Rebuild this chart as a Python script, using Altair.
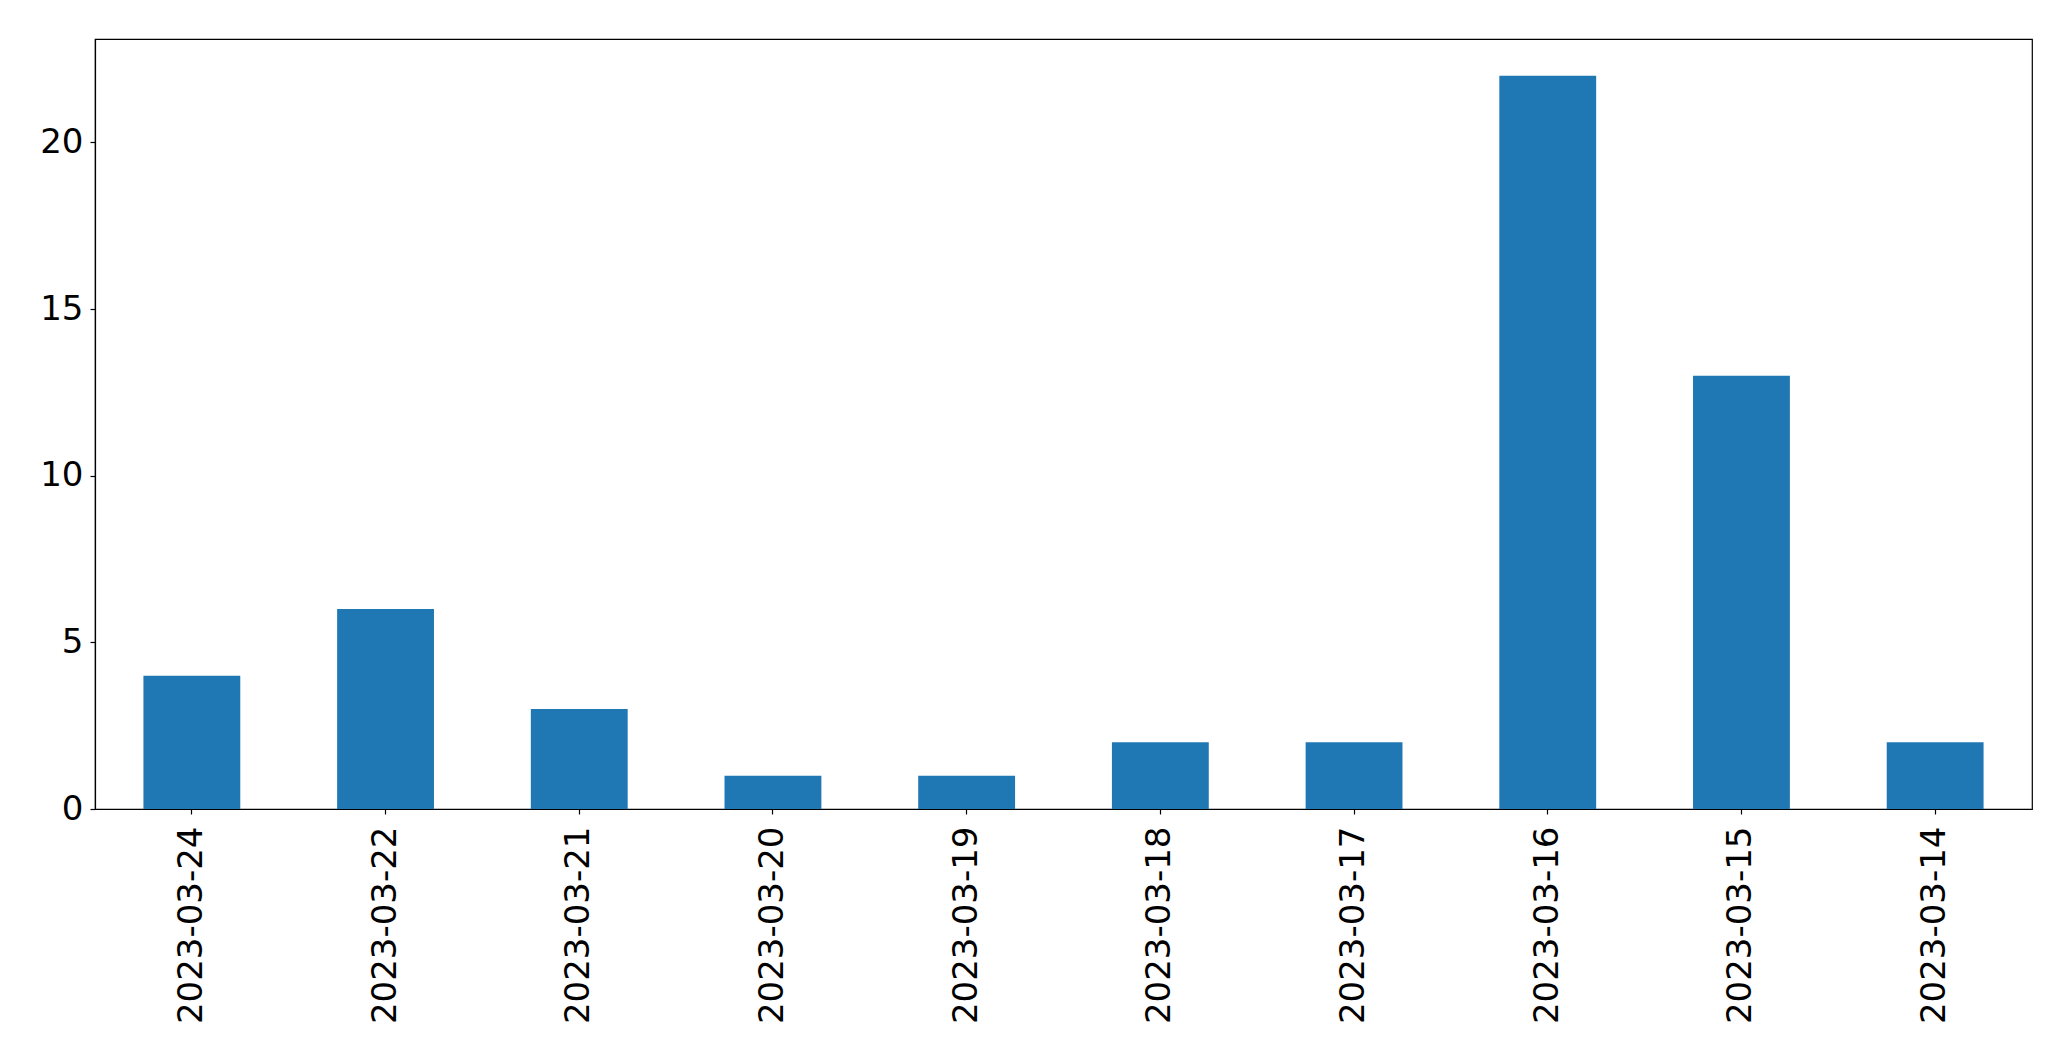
import altair as alt
import pandas as pd

dates = ["2023-03-24", "2023-03-22", "2023-03-21", "2023-03-20", "2023-03-19",
         "2023-03-18", "2023-03-17", "2023-03-16", "2023-03-15", "2023-03-14"]
counts = [4, 6, 3, 1, 1, 2, 2, 22, 13, 2]

df = pd.DataFrame({"date": dates, "count": counts})

chart = alt.Chart(df).mark_bar(color="#1f77b4").encode(
    x=alt.X("date:N", sort=None, title=None,
            scale=alt.Scale(paddingInner=0.5, paddingOuter=0.25),
            axis=alt.Axis(labelAngle=270, labelFontSize=34, labelFont="DejaVu Sans",
                          labelColor="black", tickColor="black", domainColor="black",
                          tickSize=5, labelPadding=12, tickWidth=1.2, domainWidth=1.2,
                          labelLimit=0)),
    y=alt.Y("count:Q", title=None,
            scale=alt.Scale(domain=[0, 23.1], nice=False),
            axis=alt.Axis(values=[0, 5, 10, 15, 20], grid=False, labelFontSize=34,
                          labelFont="DejaVu Sans", labelColor="black", tickColor="black",
                          domainColor="black", tickSize=5, labelPadding=7,
                          tickWidth=1.2, domainWidth=1.2)),
).properties(
    width=1937, height=770,
    autosize=alt.AutoSizeParams(type="none"),
    padding={"left": 87, "top": 31, "right": 30, "bottom": 240},
).configure_view(stroke="black", strokeWidth=1.2)

chart.save("out.html", embed_options={"renderer": "svg", "actions": False})
